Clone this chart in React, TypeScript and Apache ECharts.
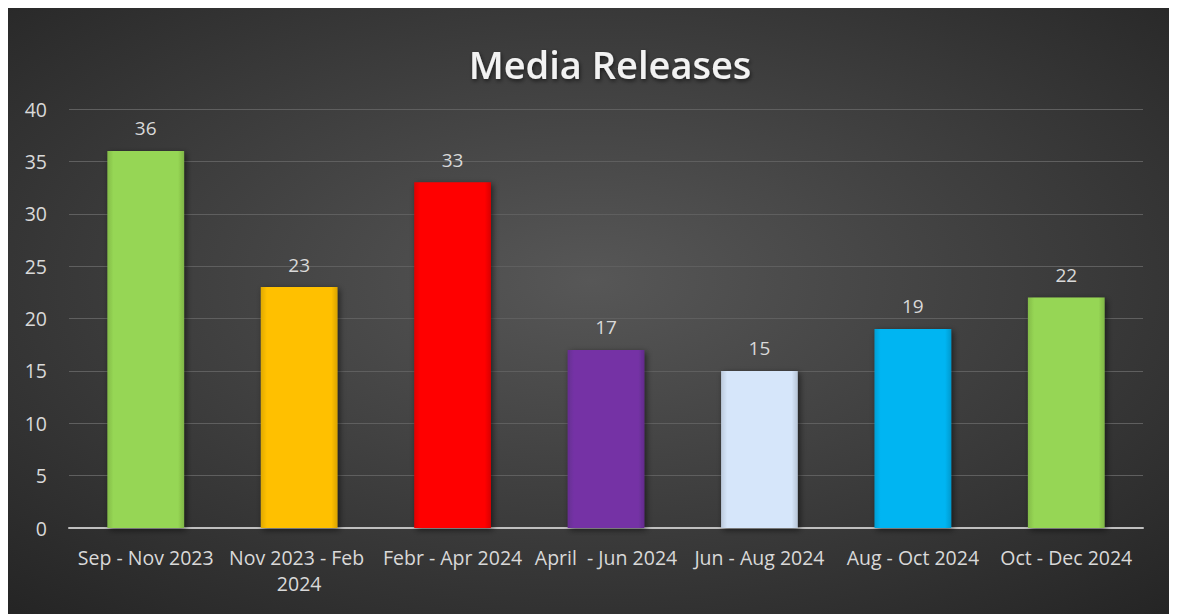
import React, { useEffect, useRef } from "react";
import * as echarts from "echarts";

const categories = [
  "Sep - Nov 2023",
  "Nov 2023 - Feb 2024",
  "Febr - Apr 2024",
  "April  - Jun 2024",
  "Jun - Aug 2024",
  "Aug - Oct 2024",
  "Oct - Dec 2024",
];
const values = [36, 23, 33, 17, 15, 19, 22];
const barColors = ["#96d654", "#ffc000", "#ff0000", "#7433a5", "#d6e6fa", "#00b5f2", "#96d654"];
const yTicks = { min: 0, max: 40, interval: 5 };

function shade(hex: string, f: number) {
  const n = parseInt(hex.slice(1), 16);
  let r = (n >> 16) & 255, g = (n >> 8) & 255, b = n & 255;
  const m = (c: number) => Math.max(0, Math.min(255, Math.round(f >= 0 ? c + (255 - c) * f : c * (1 + f))));
  return `rgb(${m(r)},${m(g)},${m(b)})`;
}

export default function App() {
  const ref = useRef<HTMLDivElement>(null);
  useEffect(() => {
    if (!ref.current) return;
    const chart = echarts.init(ref.current, null, { renderer: "svg" });
    const font = "Open Sans";
    chart.setOption({
      animation: false,
      backgroundColor: {
        type: "radial",
        x: 0.5,
        y: 0.45,
        r: 0.75,
        colorStops: [
          { offset: 0, color: "#575757" },
          { offset: 1, color: "#242424" },
        ],
      },
      title: {
        text: "Media Releases",
        left: 597,
        top: 32,
        textAlign: "center",
        textStyle: {
          fontFamily: font,
          fontSize: 38,
          fontWeight: 600,
          color: "#f2f2f2",
          textShadowColor: "rgba(0,0,0,0.6)",
          textShadowBlur: 4,
          textShadowOffsetX: 1,
          textShadowOffsetY: 2,
        },
      },
      grid: { left: 61, right: 30, top: 101, bottom: 86, containLabel: false },
      xAxis: {
        type: "category",
        data: categories,
        axisLine: { lineStyle: { color: "#bfbfbf", width: 2 } },
        axisTick: { show: false },
        axisLabel: {
          interval: 0,
          color: "#d9d9d9",
          fontFamily: font,
          fontSize: 19.5,
          margin: 16,
          width: 162,
          overflow: "break",
          lineHeight: 26,
        },
      },
      yAxis: {
        type: "value",
        min: yTicks.min,
        max: yTicks.max,
        interval: yTicks.interval,
        axisLine: { show: false },
        axisTick: { show: false },
        axisLabel: { color: "#d9d9d9", fontFamily: font, fontSize: 19.5, margin: 22 },
        splitLine: { lineStyle: { color: "#5f5f5f", width: 1 } },
      },
      series: [
        {
          type: "bar",
          barWidth: "50%",
          data: values.map((v, i) => ({
            value: v,
            itemStyle: {
              color: {
                type: "linear",
                x: 0,
                y: 0,
                x2: 1,
                y2: 0,
                colorStops: [
                  { offset: 0, color: shade(barColors[i], -0.12) },
                  { offset: 0.08, color: barColors[i] },
                  { offset: 0.92, color: barColors[i] },
                  { offset: 1, color: shade(barColors[i], -0.15) },
                ],
              },
              shadowColor: "rgba(0,0,0,0.55)",
              shadowBlur: 6,
              shadowOffsetX: 2,
              shadowOffsetY: 2,
            },
          })),
          label: {
            show: true,
            position: "top",
            distance: 13,
            color: "#d9d9d9",
            fontFamily: font,
            fontSize: 19,
          },
        },
      ],
    });
    return () => chart.dispose();
  }, []);
  return <div ref={ref} style={{ width: 1165, height: 606 }} />;
}
